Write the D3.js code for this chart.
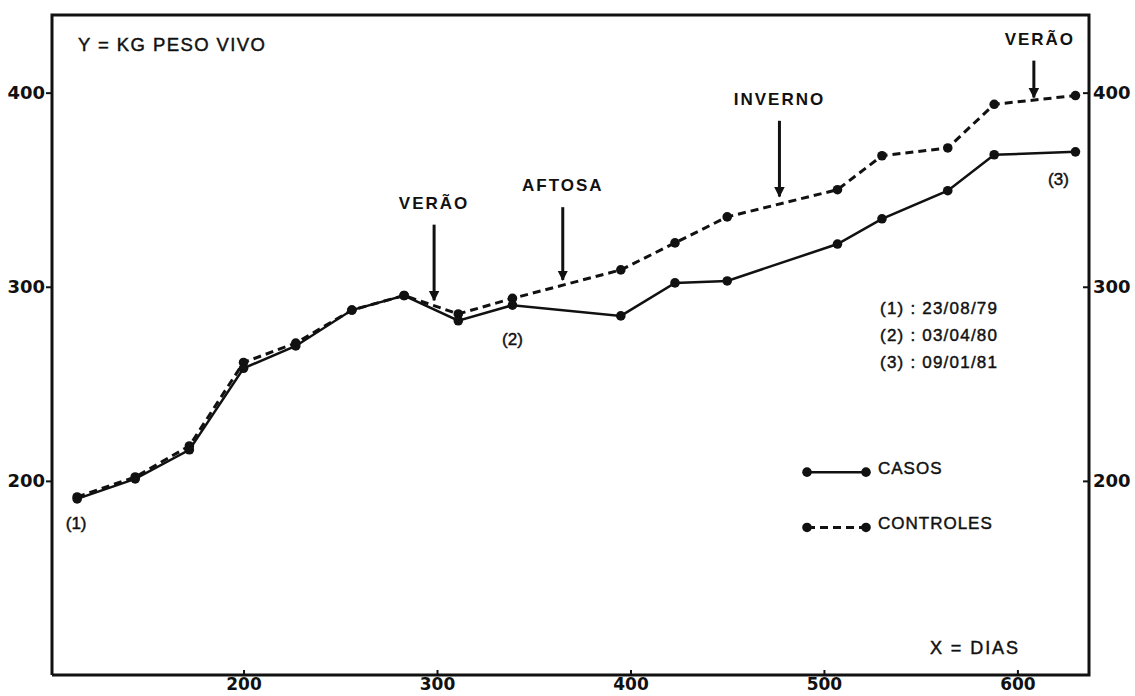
<!DOCTYPE html>
<html>
<head>
<meta charset="utf-8">
<script src="https://cdn.jsdelivr.net/npm/d3@7"></script>
<style>
  html, body { margin: 0; padding: 0; background: #fff; }
  svg text { fill: #111; }
</style>
</head>
<body>
<div id="chart"></div>
<script>
// Peso vivo (kg) ao longo dos dias - casos vs controles
const days = [114, 144, 172, 200, 227, 256, 283, 311, 339, 395, 423, 450, 507, 530, 564, 588, 630];
const casos = [190.7, 201, 216, 258, 269.5, 288, 295.5, 282.5, 290.5, 285, 302, 303, 322, 335, 349.5, 368, 369.5];
const controles = [191.7, 202, 218, 261, 271, 288, 295.5, 286, 294, 308.7, 322.6, 336, 350, 367.5, 371.5, 394, 398.5];

const xTicks = [200, 300, 400, 500, 600];
const yTicks = [200, 300, 400];

// seasonal / event markers: label, day, arrow from -> to (kg)
const eventLabels = ['VERÃO', 'AFTOSA', 'INVERNO', 'VERÃO'];
const eventDays = [298.5, 365, 477, 608.5];
const eventFrom = [332, 341, 385.5, 416.5];
const eventTo = [293, 303.5, 346.5, 397.5];

const dateNotes = ['(1) : 23/08/79', '(2) : 03/04/80', '(3) : 09/01/81'];
const seriesNames = ['CASOS', 'CONTROLES'];

const width = 1135;
const height = 696;
const plot = { left: 52, right: 1089, top: 15, bottom: 675 };
const ink = '#111';
const numFont = '"DejaVu Sans", sans-serif';
const txtFont = '"Liberation Sans", Arial, sans-serif';

const svg = d3.select('#chart').append('svg')
  .attr('width', width)
  .attr('height', height)
  .style('background', '#fff');

const x = d3.scaleLinear().domain([101, 637]).range([plot.left, plot.right]);
const y = d3.scaleLinear().domain([100, 440]).range([plot.bottom, plot.top]);

// slightly heavier than regular, like the typewriter-ish lettering
const medium = (t) => t.attr('stroke', ink).attr('stroke-width', 0.45);

// frame
svg.append('path')
  .attr('d', `M${plot.left},${plot.bottom}V${plot.top}H${plot.right}V${plot.bottom}H${plot.left}`)
  .attr('fill', 'none')
  .attr('stroke', ink)
  .attr('stroke-width', 3);

// axes
const styleAxis = (g) => {
  g.select('.domain').remove();
  g.selectAll('line').attr('stroke', ink).attr('stroke-width', 2);
  g.selectAll('text')
    .attr('fill', ink)
    .style('font-family', numFont)
    .style('font-weight', 'bold')
    .style('font-size', '18px');
};

svg.append('g')
  .attr('transform', `translate(${plot.left},0)`)
  .call(d3.axisLeft(y).tickValues(yTicks).tickSize(6).tickPadding(1).tickFormat(d3.format('d')))
  .call(styleAxis);

svg.append('g')
  .attr('transform', `translate(${plot.right},0)`)
  .call(d3.axisRight(y).tickValues(yTicks).tickSize(-6).tickPadding(4).tickFormat(d3.format('d')))
  .call(styleAxis);

svg.append('g')
  .attr('transform', `translate(0,${plot.bottom})`)
  .call(d3.axisBottom(x).tickValues(xTicks).tickSize(-5).tickPadding(3).tickFormat(d3.format('d')))
  .call(styleAxis)
  .call((g) => g.selectAll('text').style('font-size', '17px'));

// series
const line = d3.line().x((d) => x(d[0])).y((d) => y(d[1]));
const casosPts = days.map((d, i) => [d, casos[i]]);
const controlesPts = days.map((d, i) => [d, controles[i]]);

svg.append('path')
  .datum(controlesPts)
  .attr('d', line)
  .attr('fill', 'none')
  .attr('stroke', ink)
  .attr('stroke-width', 3)
  .attr('stroke-dasharray', '8,5');

svg.append('path')
  .datum(casosPts)
  .attr('d', line)
  .attr('fill', 'none')
  .attr('stroke', ink)
  .attr('stroke-width', 2.5);

[controlesPts, casosPts].forEach((pts) => {
  svg.append('g').selectAll('circle')
    .data(pts)
    .join('circle')
    .attr('cx', (d) => x(d[0]))
    .attr('cy', (d) => y(d[1]))
    .attr('r', 4.8)
    .attr('fill', ink);
});

// arrows
const defs = svg.append('defs');
defs.append('marker')
  .attr('id', 'arrow')
  .attr('viewBox', '0 0 10 10')
  .attr('refX', 9)
  .attr('refY', 5)
  .attr('markerWidth', 3.5)
  .attr('markerHeight', 5.5)
  .attr('markerUnits', 'strokeWidth')
  .attr('orient', 'auto')
  .append('path')
  .attr('d', 'M0,0L10,5L0,10Z')
  .attr('fill', ink);

eventLabels.forEach((label, i) => {
  const ex = x(eventDays[i]);
  svg.append('line')
    .attr('x1', ex).attr('x2', ex)
    .attr('y1', y(eventFrom[i])).attr('y2', y(eventTo[i]))
    .attr('stroke', ink)
    .attr('stroke-width', 3)
    .attr('marker-end', 'url(#arrow)');
  svg.append('text')
    .attr('x', i === 3 ? ex + 6 : ex)
    .attr('y', y(eventFrom[i]) - 16)
    .attr('text-anchor', 'middle')
    .style('font-family', txtFont)
    .style('font-weight', 'bold')
    .style('font-size', '17px')
    .style('letter-spacing', '2px')
    .text(label);
});

// point labels
const ptLabel = (txt, px, py) => svg.append('text')
  .attr('x', px).attr('y', py)
  .attr('text-anchor', 'middle')
  .style('font-family', txtFont)
  .style('font-size', '17px')
  .call(medium)
  .text(txt);

ptLabel('(1)', x(days[0]) - 1, y(casos[0]) + 30);
ptLabel('(2)', x(days[8]), y(casos[8]) + 40);
ptLabel('(3)', x(days[16]) - 17, y(casos[16]) + 33);

// axis captions
svg.append('text')
  .attr('x', 78).attr('y', 51)
  .attr('textLength', 187)
  .attr('lengthAdjust', 'spacing')
  .style('font-family', txtFont)
  .style('font-size', '18.5px')
  .call(medium)
  .text('Y = KG PESO VIVO');

svg.append('text')
  .attr('x', 930).attr('y', 654)
  .attr('textLength', 88)
  .attr('lengthAdjust', 'spacing')
  .style('font-family', txtFont)
  .style('font-size', '18px')
  .call(medium)
  .text('X = DIAS');

// date notes
svg.append('g').selectAll('text')
  .data(dateNotes)
  .join('text')
  .attr('x', 880)
  .attr('y', (d, i) => 314 + i * 27)
  .attr('textLength', 117)
  .attr('lengthAdjust', 'spacing')
  .style('font-family', txtFont)
  .style('font-size', '17px')
  .call(medium)
  .text((d) => d);

// legend
const legendY = [y(204.5), y(176)];
seriesNames.forEach((name, i) => {
  const g = svg.append('g');
  g.append('line')
    .attr('x1', 807).attr('x2', 866)
    .attr('y1', legendY[i]).attr('y2', legendY[i])
    .attr('stroke', ink)
    .attr('stroke-width', i === 0 ? 2.5 : 3)
    .attr('stroke-dasharray', i === 0 ? null : '8,5');
  g.selectAll('circle')
    .data([807, 866])
    .join('circle')
    .attr('cx', (d) => d)
    .attr('cy', legendY[i])
    .attr('r', 4.8)
    .attr('fill', ink);
  g.append('text')
    .attr('x', 878)
    .attr('y', legendY[i] + 2)
    .style('font-family', txtFont)
    .style('font-size', '17px')
    .style('letter-spacing', '1px')
    .call(medium)
    .text(name);
});
</script>
</body>
</html>
